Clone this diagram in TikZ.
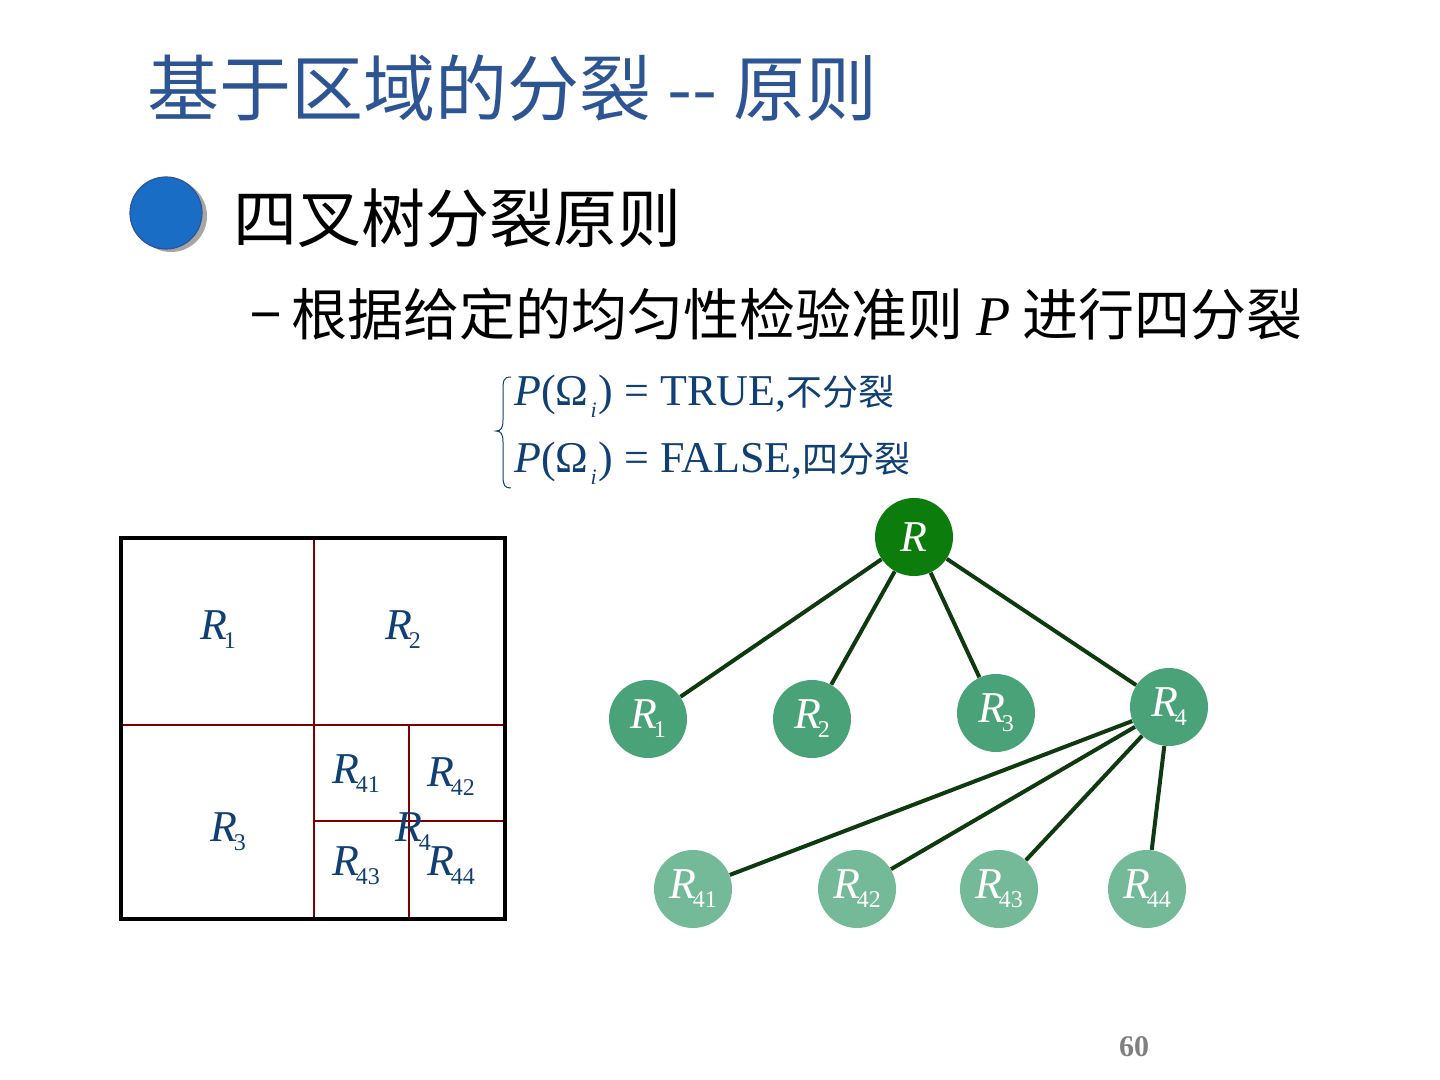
\documentclass[tikz,border=0pt]{standalone}
\usepackage{fontspec}
\setmainfont{Liberation Serif}
\newfontfamily\cjk{Noto Sans CJK SC}
\usetikzlibrary{positioning}
\definecolor{titleblue}{HTML}{2E5593}
\definecolor{eqblue}{HTML}{0F3F73}
\definecolor{rootgreen}{HTML}{0C7C0C}
\definecolor{midgreen}{HTML}{4AA378}
\definecolor{leafgreen}{HTML}{74B998}
\definecolor{edgegreen}{HTML}{0F3A0F}
\definecolor{splitred}{HTML}{7F0000}
\definecolor{dotblue}{HTML}{1A6DC4}
\newcommand{\fsz}[1]{\fontsize{#1}{1.2\dimexpr#1pt\relax}\selectfont}
\newcommand{\Rsub}[1]{\textit{R}\kern-1.5pt\raisebox{-0.45ex}{\fsz{12}#1}}
\newcommand{\Omsub}{Ω\kern1pt\raisebox{-0.6ex}{\fsz{11}\textit{i}}\kern1pt}

\begin{document}
\begin{tikzpicture}[
  x=0.5pt, y=-0.5pt,
  region/.style={font=\fsz{22}, text=eqblue, inner sep=0pt},
  treenode/.style={circle, minimum size=39pt, inner sep=0pt, font=\fsz{22}},
  rootnode/.style={treenode, fill=rootgreen, text=white},
  midnode/.style={treenode, fill=midgreen, text=white},
  leafnode/.style={treenode, fill=leafgreen, text=white},
  edge/.style={draw=edgegreen, line width=2pt}
]
  \useasboundingbox (0,0) rectangle (1440,1080);

  % title and bullets
  \node[anchor=west, inner sep=0pt, text=titleblue, font=\cjk\fsz{36}] (title) at (147,88) {基于区域的分裂 -- 原则};
  \fill[gray!70] (171,216) circle[radius=36];
  \fill[dotblue, draw=titleblue, line width=0.6pt] (166,213) circle[radius=36];
  \node[anchor=west, inner sep=0pt, font=\cjk\fsz{32}] (point) at (233,218) {四叉树分裂原则};
  \node[anchor=west, inner sep=0pt, font=\cjk\fsz{28}] (rule) at (250,314)
    {−\kern5pt 根据给定的均匀性检验准则 {\rmfamily\itshape P} 进行四分裂};

  % splitting test
  \draw[eqblue, line width=0.5pt] (511,377) .. controls (503,377) and (503,381) .. (503,392)
    -- (503,420) .. controls (503,428) and (501,431) .. (496,431)
    .. controls (501,431) and (503,434) .. (503,442) -- (503,476)
    .. controls (503,486) and (505,488) .. (511,488);
  \node[anchor=west, inner sep=0pt, text=eqblue, font=\fsz{22}, align=left] (test) at (514,430)
    {\textit{P}(\Omsub) = TRUE,{\cjk\fsz{18}不分裂}\\[7pt]
     \textit{P}(\Omsub) = FALSE,{\cjk\fsz{18}四分裂}};

  % quadtree partition
  \draw[splitred, line width=1.3pt] (314,538) -- (314,919);
  \draw[splitred, line width=1.3pt] (121,725) -- (505,725);
  \draw[splitred, line width=1.3pt] (409,725) -- (409,919);
  \draw[splitred, line width=1pt] (314,821) -- (505,821);
  \draw[line width=2pt] (121,538) rectangle (505,919);
  \node[region] (p1) at (218,630) {\Rsub{1}};
  \node[region] (p2) at (403,630) {\Rsub{2}};
  \node[region] (p3) at (228,832) {\Rsub{3}};
  \node[region] (p4) at (413,832) {\Rsub{4}};
  \node[region] (p41) at (356,774) {\Rsub{41}};
  \node[region] (p42) at (451,777) {\Rsub{42}};
  \node[region] (p43) at (356,866) {\Rsub{43}};
  \node[region] (p44) at (451,866) {\Rsub{44}};

  % quadtree
  \node[rootnode] (root) at (914,537) {\textit{R}};
  \node[midnode] (r1) at (648,719) {\Rsub{1}};
  \node[midnode] (r2) at (812,719) {\Rsub{2}};
  \node[midnode] (r3) at (996,713) {\Rsub{3}};
  \node[midnode] (r4) at (1169,707) {\Rsub{4}};
  \node[leafnode] (r41) at (693,889) {\Rsub{41}};
  \node[leafnode] (r42) at (857,889) {\Rsub{42}};
  \node[leafnode] (r43) at (999,889) {\Rsub{43}};
  \node[leafnode] (r44) at (1147,889) {\Rsub{44}};

  \draw[edge] (root) -- (r1);
  \draw[edge] (root) -- (r2);
  \draw[edge] (root) -- (r3);
  \draw[edge] (root) -- (r4);
  \draw[edge] (r4) -- (r41);
  \draw[edge] (r4) -- (r42);
  \draw[edge] (r4) -- (r43);
  \draw[edge] (r4) -- (r44);

  \node[text=gray, font=\bfseries\fsz{15}] (page) at (1134,1047) {60};
\end{tikzpicture}
\end{document}
